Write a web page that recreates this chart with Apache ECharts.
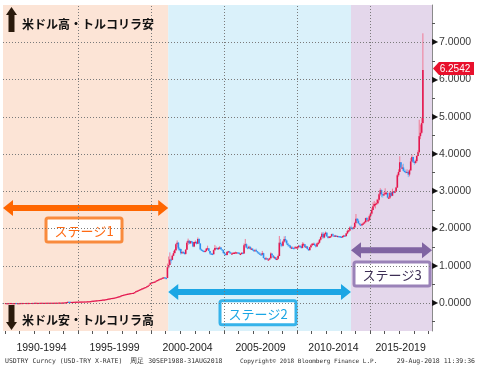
<!DOCTYPE html>
<html><head><meta charset="utf-8">
<script src="https://cdn.jsdelivr.net/npm/echarts@6/dist/echarts.min.js"></script>
<style>html,body{margin:0;padding:0;background:#fff}#c{width:477px;height:369px}</style>
</head><body><div id="c"></div>
<script>
// Monthly USD/TRY, Jan 1990 .. Aug 2018
const startYear = 1990;
const firstOpen = 0.00231;
const closes = [
// 1990
0.00234,0.00237,0.00242,0.00250,0.00253,0.00258,0.00264,0.00268,0.00275,0.00272,0.00285,0.00293,
// 1991
0.00320,0.00345,0.00360,0.00373,0.00385,0.00401,0.00420,0.00440,0.00465,0.00480,0.00510,0.00507,
// 1992
0.00535,0.00560,0.00583,0.00610,0.00640,0.00660,0.00680,0.00700,0.00740,0.00790,0.00830,0.00870,
// 1993
0.00900,0.00930,0.00960,0.00995,0.01030,0.01070,0.01100,0.01140,0.01180,0.01230,0.01300,0.01440,
// 1994
0.01710,0.01940,0.02600,0.03400,0.03350,0.03050,0.03100,0.03250,0.03400,0.03600,0.03700,0.03850,
// 1995
0.03950,0.04050,0.04150,0.04250,0.04300,0.04400,0.04500,0.04700,0.04850,0.05000,0.05300,0.05900,
// 1996
0.06300,0.06750,0.07100,0.07450,0.07800,0.08150,0.08450,0.08800,0.09300,0.09700,0.10200,0.10800,
// 1997
0.11400,0.12000,0.12800,0.13600,0.13900,0.14400,0.15200,0.16000,0.17000,0.17900,0.18900,0.20500,
// 1998
0.21600,0.22400,0.23300,0.24100,0.24900,0.25500,0.26200,0.26700,0.27200,0.27500,0.29300,0.31400,
// 1999
0.32900,0.34400,0.35900,0.37500,0.39100,0.40500,0.41800,0.43000,0.44800,0.46600,0.49400,0.54100,
// 2000
0.55400,0.56300,0.57000,0.58300,0.60600,0.62100,0.64000,0.65500,0.66200,0.68300,0.69000,0.67300,
// 2001
0.672,0.96,1.02,1.17,1.16,1.27,1.34,1.42,1.58,1.62,1.46,1.45,
// 2002
1.34,1.37,1.35,1.32,1.43,1.62,1.67,1.60,1.66,1.64,1.52,1.64,
// 2003
1.64,1.59,1.72,1.60,1.44,1.42,1.40,1.39,1.40,1.46,1.47,1.40,
// 2004
1.33,1.32,1.31,1.42,1.48,1.48,1.44,1.48,1.49,1.44,1.42,1.34,
// 2005
1.32,1.29,1.37,1.39,1.36,1.33,1.33,1.35,1.35,1.36,1.36,1.35,
// 2006
1.32,1.32,1.35,1.33,1.55,1.58,1.49,1.47,1.51,1.45,1.46,1.42,
// 2007
1.41,1.42,1.39,1.36,1.33,1.31,1.30,1.34,1.21,1.19,1.20,1.17,
// 2008
1.17,1.20,1.33,1.28,1.22,1.23,1.17,1.19,1.26,1.62,1.58,1.54,
// 2009
1.65,1.72,1.68,1.60,1.56,1.54,1.48,1.49,1.48,1.47,1.50,1.50,
// 2010
1.50,1.54,1.52,1.48,1.58,1.58,1.50,1.52,1.45,1.42,1.50,1.55,
// 2011
1.59,1.59,1.55,1.52,1.60,1.62,1.70,1.77,1.86,1.76,1.85,1.89,
// 2012
1.79,1.75,1.78,1.79,1.85,1.81,1.79,1.81,1.79,1.80,1.79,1.78,
// 2013
1.76,1.80,1.81,1.80,1.87,1.93,1.95,2.03,2.02,2.00,2.03,2.15,
// 2014
2.26,2.21,2.14,2.11,2.09,2.12,2.14,2.17,2.28,2.22,2.22,2.33,
// 2015
2.40,2.50,2.60,2.66,2.66,2.68,2.77,2.92,3.03,2.92,2.91,2.92,
// 2016
2.96,2.96,2.83,2.83,2.96,2.88,2.99,2.96,3.00,3.10,3.43,3.52,
// 2017
3.78,3.64,3.64,3.55,3.53,3.52,3.52,3.45,3.56,3.80,3.92,3.79,
// 2018
3.76,3.81,3.95,4.05,4.48,4.57,4.83,6.2542
];
// Monthly highs / lows from Jan 2001
const highs2001 = [
0.68,1.06,1.25,1.36,1.20,1.30,1.40,1.45,1.60,1.68,1.64,1.50,
1.46,1.40,1.40,1.37,1.45,1.66,1.73,1.69,1.67,1.67,1.64,1.65,
1.68,1.66,1.76,1.74,1.60,1.46,1.43,1.42,1.42,1.48,1.54,1.47,
1.40,1.35,1.34,1.44,1.56,1.52,1.49,1.50,1.53,1.50,1.45,1.43,
1.36,1.33,1.39,1.40,1.40,1.37,1.35,1.36,1.37,1.38,1.37,1.37,
1.36,1.34,1.36,1.36,1.60,1.72,1.60,1.52,1.54,1.52,1.49,1.47,
1.44,1.45,1.46,1.40,1.36,1.36,1.34,1.40,1.35,1.22,1.24,1.20,
1.20,1.22,1.36,1.32,1.28,1.26,1.24,1.21,1.30,1.80,1.72,1.62,
1.68,1.79,1.80,1.70,1.62,1.58,1.56,1.52,1.52,1.50,1.53,1.52,
1.52,1.56,1.56,1.52,1.63,1.62,1.58,1.54,1.53,1.46,1.51,1.58,
1.61,1.62,1.62,1.56,1.62,1.65,1.72,1.80,1.90,1.91,1.88,1.92,
1.89,1.79,1.80,1.80,1.86,1.87,1.83,1.83,1.81,1.81,1.80,1.79,
1.78,1.81,1.83,1.82,1.88,1.97,1.97,2.06,2.08,2.03,2.05,2.18,
2.39,2.28,2.26,2.14,2.13,2.14,2.17,2.20,2.29,2.31,2.27,2.37,
2.45,2.56,2.70,2.74,2.70,2.78,2.80,2.95,3.08,3.05,2.93,2.98,
3.08,2.99,2.96,2.87,3.00,2.98,3.07,3.00,3.02,3.12,3.47,3.59,
3.94,3.77,3.72,3.74,3.60,3.58,3.59,3.56,3.59,3.89,3.99,3.93,
3.83,3.85,3.96,4.10,4.92,4.79,4.98,7.24
];
const lows2001 = [
0.67,0.67,0.93,1.05,1.06,1.15,1.26,1.33,1.40,1.50,1.41,1.39,
1.30,1.32,1.33,1.30,1.30,1.43,1.56,1.58,1.60,1.60,1.50,1.50,
1.60,1.57,1.59,1.58,1.42,1.40,1.38,1.36,1.36,1.38,1.44,1.39,
1.30,1.31,1.30,1.31,1.41,1.45,1.43,1.44,1.47,1.44,1.41,1.33,
1.30,1.27,1.28,1.35,1.33,1.33,1.32,1.32,1.33,1.34,1.35,1.34,
1.31,1.31,1.31,1.31,1.33,1.49,1.47,1.44,1.46,1.44,1.44,1.40,
1.39,1.38,1.37,1.33,1.31,1.30,1.27,1.28,1.20,1.15,1.17,1.16,
1.15,1.16,1.19,1.25,1.22,1.20,1.16,1.15,1.17,1.27,1.52,1.50,
1.52,1.62,1.63,1.56,1.52,1.51,1.47,1.46,1.45,1.43,1.46,1.47,
1.44,1.49,1.50,1.46,1.47,1.54,1.50,1.49,1.44,1.40,1.41,1.48,
1.53,1.57,1.53,1.49,1.51,1.56,1.60,1.67,1.72,1.73,1.74,1.81,
1.78,1.73,1.74,1.75,1.77,1.79,1.78,1.78,1.78,1.78,1.77,1.76,
1.75,1.76,1.79,1.78,1.78,1.85,1.90,1.93,1.98,1.96,1.98,2.02,
2.12,2.15,2.13,2.08,2.07,2.07,2.10,2.13,2.16,2.22,2.20,2.21,
2.26,2.37,2.49,2.57,2.54,2.65,2.66,2.73,2.88,2.84,2.83,2.89,
2.91,2.90,2.81,2.80,2.80,2.86,2.87,2.93,2.95,2.98,3.09,3.39,
3.52,3.60,3.59,3.53,3.50,3.48,3.50,3.38,3.40,3.55,3.77,3.76,
3.71,3.74,3.77,3.94,4.02,4.40,4.54,4.80
];
const xLabels = ['1990-1994','1995-1999','2000-2004','2005-2009','2010-2014','2015-2019'];
const xLabelPos = [1992.5, 1997.5, 2002.5, 2007.5, 2012.5, 2017.1];
const xMajorTicks = [1995, 2000, 2005, 2010, 2015];
const xYearTicks = [1990,1991,1992,1993,1994,1995,1996,1997,1998,1999,2000,2001,2002,2003,2004,2005,2006,2007,2008,2009,2010,2011,2012,2013,2014,2015,2016,2017,2018,2019];
const yLabels = [0,1,2,3,4,5,6,7];
const yMinorTicks = [-0.5,0.5,1.5,2.5,3.5,4.5,5.5,6.5,7.5];
const stageNames = ['ステージ1','ステージ2','ステージ3'];
const stageStarts = [1989.86, 2001.18, 2013.70];
const stageEnds = [2001.18, 2013.70, 2019.25];
const stageArrowY = [2.55, 0.30, 1.42];
const stageBoxX = [1995.41, 2007.33, 2016.51];
const stageBoxY = [1.96, -0.26, 0.78];
const stageBg = ['#FCE4D6', '#DAF1FA', '#E4D7EB'];
const stageArrowColor = ['#FF6600', '#1BA6E4', '#8064A2'];
const stageBoxColor = ['#F98A3C', '#35B3EA', '#9A82B8'];
const stageTextColor = ['#FF6A13', '#1BA6E4', '#3D2E55'];

const X_MIN = 1989.86, X_MAX = 2019.25;

const candles = closes.map((c, i) => {
  const x = startYear + (i + 0.5) / 12;
  const o = i === 0 ? firstOpen : closes[i - 1];
  let h, l;
  if (i >= 132) { h = highs2001[i - 132]; l = lows2001[i - 132]; }
  else { h = Math.max(o, c); l = Math.min(o, c); }
  return [x, o, c, l, h];
});

const chart = echarts.init(document.getElementById('c'), null, {renderer: 'canvas'});

function renderCandle(params, api) {
  const x = api.value(0), o = api.value(1), c = api.value(2), l = api.value(3), h = api.value(4);
  const pO = api.coord([x, o]), pC = api.coord([x, c]), pL = api.coord([x, l]), pH = api.coord([x, h]);
  const up = c >= o;
  const w = 1.6;
  const top = Math.min(pO[1], pC[1]), bot = Math.max(pO[1], pC[1]);
  return {type: 'group', children: [
    {type: 'line', shape: {x1: pO[0], y1: pH[1], x2: pO[0], y2: pL[1]}, style: {stroke: up ? '#F07A95' : '#7FBEF5', lineWidth: 1}},
    {type: 'rect', shape: {x: pO[0] - w / 2, y: top, width: w, height: Math.max(bot - top, 1.2)}, style: {fill: up ? '#E3174F' : '#2F8FF0'}}
  ]};
}

function renderStage(params, api) {
  const i = params.dataIndex;
  const a = api.coord([api.value(0), api.value(2)]);
  const b = api.coord([api.value(1), api.value(2)]);
  const box = api.coord([api.value(3), api.value(4)]);
  const y = a[1], x1 = a[0], x2 = b[0];
  const hl = 10, hh = 8, st = 3;
  const pts = [[x1, y], [x1 + hl, y - hh], [x1 + hl, y - st], [x2 - hl, y - st], [x2 - hl, y - hh], [x2, y],
               [x2 - hl, y + hh], [x2 - hl, y + st], [x1 + hl, y + st], [x1 + hl, y + hh]];
  return {type: 'group', children: [
    {type: 'polygon', shape: {points: pts}, style: {fill: stageArrowColor[i]}},
    {type: 'rect', shape: {x: box[0] - 38, y: box[1] - 12, width: 76, height: 24, r: 2},
     style: {fill: '#fff', stroke: stageBoxColor[i], lineWidth: 3}},
    {type: 'text', x: box[0], y: box[1] + 1, style: {text: stageNames[i], align: 'center', verticalAlign: 'middle',
      textAlign: 'center', textVerticalAlign: 'middle', fill: stageTextColor[i], font: '13px "Noto Sans CJK JP"'}}
  ]};
}

function renderTag(params, api) {
  const p = api.coord([api.value(0), api.value(1)]);
  const x = p[0] + 1, y = p[1] - 1.5;
  return {type: 'group', children: [
    {type: 'polygon', shape: {points: [[x, y], [x + 6, y - 6.5], [x + 41, y - 6.5], [x + 41, y + 6.5], [x + 6, y + 6.5]]}, style: {fill: '#E8112D'}},
    {type: 'text', x: x + 22, y: y + 0.5, style: {text: api.value(1).toFixed(4), align: 'center', verticalAlign: 'middle',
      textAlign: 'center', textVerticalAlign: 'middle', fill: '#fff', font: '10px "Liberation Sans"'}}
  ]};
}

const option = {
  animation: false,
  grid: {left: 3, right: 45, top: 5, bottom: 38, containLabel: false},
  xAxis: [{
    type: 'value', min: X_MIN, max: X_MAX, position: 'bottom',
    axisLine: {show: true, lineStyle: {color: '#7a7a7a', width: 1}},
    axisTick: {show: true, customValues: xMajorTicks, length: 24, lineStyle: {color: '#b4b4b4', width: 2}},
    axisLabel: {show: true, customValues: xLabelPos, margin: 12, color: '#222', fontSize: 10.5, fontFamily: 'Liberation Sans',
      formatter: v => { const k = xLabelPos.findIndex(p => Math.abs(p - v) < 0.01); return k >= 0 ? xLabels[k] : ''; }},
    splitLine: {show: false}
  }, {
    type: 'value', min: X_MIN, max: X_MAX, position: 'bottom', offset: 0,
    axisLine: {show: false},
    axisTick: {show: true, customValues: xYearTicks, length: 3, lineStyle: {color: '#555', width: 1}},
    axisLabel: {show: false},
    splitLine: {show: false}
  }],
  yAxis: {
    type: 'value', position: 'right', min: -0.75, max: 8,
    axisLine: {show: true, lineStyle: {color: '#8a8a8a', width: 1}},
    axisTick: {show: true, customValues: yMinorTicks, length: 3, lineStyle: {color: '#555'}},
    axisLabel: {show: true, customValues: yLabels, margin: 0, color: '#3a3a3a', fontSize: 10.5, fontFamily: 'Liberation Sans',
      formatter: v => '{a|▶}' + v.toFixed(4),
      rich: {a: {fontSize: 8, color: '#111', padding: [0, 1, 0, 0]}}},
    splitLine: {show: false}
  },
  series: [
    {type: 'line', z: 0, data: [[startYear, 0]], showSymbol: false, lineStyle: {width: 0}, silent: true,
     markArea: {silent: true, data: stageStarts.map((s, i) => [{xAxis: s, itemStyle: {color: stageBg[i]}}, {xAxis: stageEnds[i]}])}},
    {type: 'line', z: 1, data: [[startYear, 0]], showSymbol: false, lineStyle: {width: 0}, silent: true,
     markLine: {silent: true, symbol: 'none', label: {show: false},
       lineStyle: {type: [1, 2], color: '#7a7a7a', width: 1},
       data: [...yLabels.map(v => ({yAxis: v})), ...xMajorTicks.map(v => ({xAxis: v}))]}},
    {type: 'custom', z: 3, renderItem: renderCandle, data: candles, silent: true, clip: true},
    {type: 'custom', z: 4, renderItem: renderStage, silent: true, clip: false,
     data: stageNames.map((n, i) => [stageStarts[i], stageEnds[i], stageArrowY[i], stageBoxX[i], stageBoxY[i]])},
    {type: 'custom', z: 6, renderItem: renderTag, silent: true, clip: false,
     data: [[X_MAX, closes[closes.length - 1]]]}
  ],
  graphic: {elements: [
    {type: 'polygon', z: 100, shape: {points: [[11.5, 7], [17, 15], [14.5, 15], [14.5, 32], [8.5, 32], [8.5, 15], [6, 15]]}, style: {fill: '#2A1A0C'}},
    {type: 'text', z: 100, x: 22, y: 24, style: {text: '米ドル高・トルコリラ安', fill: '#111', font: 'bold 12px "Noto Sans CJK JP"', verticalAlign: 'middle', textVerticalAlign: 'middle'}},
    {type: 'polygon', z: 100, shape: {points: [[11.5, 330], [17, 322], [14.5, 322], [14.5, 305], [8.5, 305], [8.5, 322], [6, 322]]}, style: {fill: '#2A1A0C'}},
    {type: 'text', z: 100, x: 22, y: 320, style: {text: '米ドル安・トルコリラ高', fill: '#111', font: 'bold 12px "Noto Sans CJK JP"', verticalAlign: 'middle', textVerticalAlign: 'middle'}},
    {type: 'text', z: 100, x: 5, y: 361, style: {text: 'USDTRY Curncy (USD-TRY X-RATE)  周足 30SEP1988-31AUG2018', fill: '#333', font: '6.5px "DejaVu Sans Mono"', verticalAlign: 'middle', textVerticalAlign: 'middle'}},
    {type: 'text', z: 100, x: 240, y: 361, style: {text: 'Copyright© 2018 Bloomberg Finance L.P.', fill: '#333', font: '6px "DejaVu Sans Mono"', verticalAlign: 'middle', textVerticalAlign: 'middle'}},
    {type: 'text', z: 100, x: 475, y: 361, style: {text: '29-Aug-2018 11:39:36', fill: '#333', font: '6.5px "DejaVu Sans Mono"', align: 'right', textAlign: 'right', verticalAlign: 'middle', textVerticalAlign: 'middle'}}
  ]}
};
chart.setOption(option);
</script>
</body></html>
